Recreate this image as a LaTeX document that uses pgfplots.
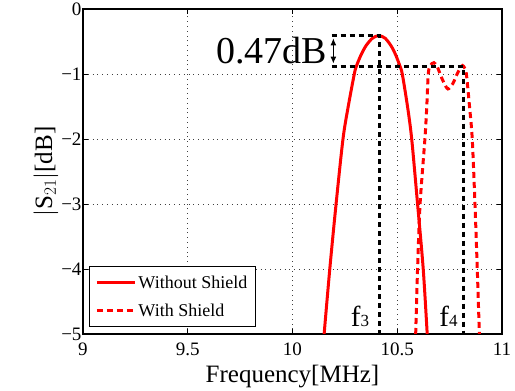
\documentclass[border=0pt]{standalone}
\usepackage{fontspec}
\setmainfont{Liberation Serif}
\usepackage{pgfplots}
\pgfplotsset{compat=1.18}
\usetikzlibrary{arrows.meta}
\begin{document}
\begin{tikzpicture}
\begin{axis}[
  at={(0,0)}, anchor=south west,
  scale only axis, width=419pt, height=325pt,
  xmin=9, xmax=11, ymin=-5, ymax=0,
  xtick={9,9.5,10,10.5,11}, xticklabels={9,9.5,10,10.5,11},
  ytick={-5,-4,-3,-2,-1,0}, yticklabels={−5,−4,−3,−2,−1,0},
  tick align=inside, major tick length=5pt,
  tick style={black, line width=0.8pt},
  axis line style={black, line width=1.4pt},
  grid=major, grid style={black!75, line width=0.8pt, dash pattern=on 0.8pt off 4pt},
  ticklabel style={font=\fontsize{19}{21}\selectfont},
  xticklabel style={yshift=-5pt},
  yticklabel style={xshift=2pt},
  label style={font=\fontsize{25}{28}\selectfont},
  xlabel={Frequency[MHz]}, ylabel={$|$S$_{21}$$|$[dB]},
  xlabel style={yshift=-3pt},
  ylabel style={yshift=-4pt},
  legend style={at={(0.0143,0.0215)}, anchor=south west, draw=black, line width=1pt,
    font=\fontsize{18}{21}\selectfont, row sep=10pt, inner xsep=6pt, inner ysep=7pt},
  legend cell align=left,
  legend image code/.code={\draw[#1] (0pt,0pt) -- (38pt,0pt);},
]
\addplot[red, line width=3pt, smooth] coordinates {
(10.151,-5.0)(10.178,-4.0)(10.208,-3.0)(10.241,-2.0)(10.266,-1.5)(10.295,-1.0)
(10.305,-0.88)(10.328,-0.70)(10.353,-0.555)(10.383,-0.446)(10.413,-0.41)
(10.443,-0.452)(10.473,-0.579)(10.493,-0.71)(10.513,-0.88)(10.524,-1.0)
(10.549,-1.5)(10.569,-2.0)(10.597,-3.0)(10.624,-4.0)(10.643,-5.0)};
\addlegendentry{Without Shield}
\addplot[red, line width=3pt, dash pattern=on 6pt off 4pt, smooth] coordinates {
(10.588,-5.0)(10.597,-4.0)(10.609,-3.0)(10.632,-2.0)(10.641,-1.5)(10.648,-1.0)
(10.656,-0.88)(10.665,-0.84)(10.675,-0.826)(10.690,-0.88)(10.707,-1.02)
(10.722,-1.13)(10.742,-1.23)(10.765,-1.15)(10.783,-1.02)(10.800,-0.91)
(10.812,-0.87)(10.822,-0.91)(10.830,-1.0)(10.845,-1.5)(10.858,-2.0)
(10.871,-3.0)(10.882,-4.0)(10.892,-5.0)};
\addlegendentry{With Shield}
\addplot[black, line width=3pt, dash pattern=on 5pt off 4pt, forget plot] coordinates {(10.187,-0.41)(10.413,-0.41)(10.413,-5)};
\addplot[black, line width=3pt, dash pattern=on 5pt off 4pt, forget plot] coordinates {(10.187,-0.88)(10.815,-0.88)(10.815,-5)};
\addplot[black, line width=1.2pt, {Latex[length=7pt,width=6pt]}-{Latex[length=7pt,width=6pt]}, forget plot] coordinates {(10.195,-0.45)(10.195,-0.84)};
\node[anchor=east, inner sep=0pt, font=\fontsize{38}{40}\selectfont] at (axis cs:10.165,-0.64) {0.47dB};
\node[anchor=base west, inner sep=0pt] at (axis cs:10.278,-4.877) {{\fontsize{29}{30}\selectfont f}{\fontsize{17}{20}\selectfont 3}};
\node[anchor=base west, inner sep=0pt] at (axis cs:10.70,-4.877) {{\fontsize{29}{30}\selectfont f}{\fontsize{17}{20}\selectfont 4}};
\end{axis}
\pgfresetboundingbox
\path (-83pt,-57pt) rectangle (432pt,334pt);
\end{tikzpicture}
\end{document}
